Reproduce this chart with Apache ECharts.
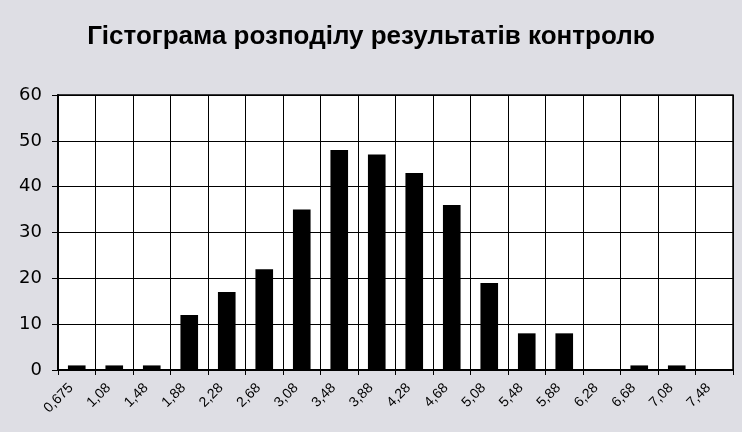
<!DOCTYPE html>
<html><head><meta charset="utf-8">
<script src="https://cdn.jsdelivr.net/npm/echarts@6/dist/echarts.min.js"></script>
<style>
html,body{margin:0;padding:0;background:#fff;}
#c{width:742px;height:432px;background:#dedee4;}
</style></head>
<body><div id="c"></div>
<script>
const title = 'Гістограма розподілу результатів контролю';
const categories = ['0,675','1,08','1,48','1,88','2,28','2,68','3,08','3,48','3,88','4,28','4,68','5,08','5,48','5,88','6,28','6,68','7,08','7,48'];
const counts = [1,1,1,12,17,22,35,48,47,43,36,19,8,8,0,1,1,0];
const yTicks = {min:0, max:60, interval:10};

const chart = echarts.init(document.getElementById('c'), null, {renderer:'canvas'});
chart.setOption({
  backgroundColor:'#dedee4',
  animation:false,
  title:{text:title, left:'center', top:19, textStyle:{fontFamily:'Liberation Sans, Arial', fontWeight:'bold', fontSize:26, color:'#000'}},
  grid:{left:58, right:9, top:95, bottom:62, show:true, backgroundColor:'#fff', borderColor:'#000', borderWidth:1.5},
  xAxis:{type:'category', data:categories,
    axisLine:{lineStyle:{color:'#000', width:2}},
    axisTick:{show:true, length:5, lineStyle:{color:'#000'}},
    splitLine:{show:true, lineStyle:{color:'#000', width:1}},
    axisLabel:{interval:0, rotate:45, margin:10, padding:[0,8,0,0], fontFamily:'Liberation Sans, Arial', fontSize:14, color:'#000'}},
  yAxis:{type:'value', min:yTicks.min, max:yTicks.max, interval:yTicks.interval,
    axisLine:{show:true, lineStyle:{color:'#000', width:2}},
    axisTick:{show:true, length:6, lineStyle:{color:'#000'}},
    splitLine:{show:true, lineStyle:{color:'#000', width:1}},
    axisLabel:{margin:16, fontFamily:'DejaVu Sans, Verdana', fontSize:18, color:'#000'}},
  series:[{type:'bar', data:counts, barWidth:'47%', itemStyle:{color:'#000'}}]
});
</script></body></html>
